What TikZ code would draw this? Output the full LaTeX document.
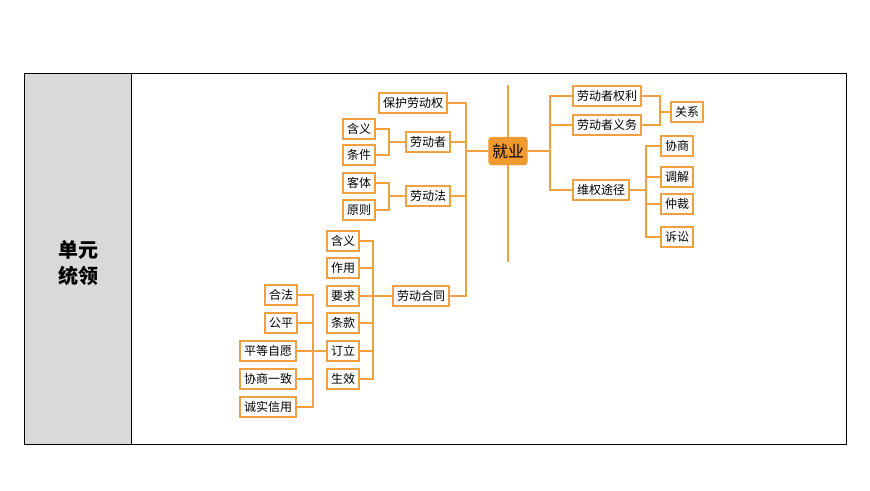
\documentclass[tikz,border=0pt]{standalone}
\usepackage{fontspec}
\newfontfamily\cjk{Noto Sans CJK SC}
\usetikzlibrary{positioning}
\definecolor{lineorange}{HTML}{F0A040}
\definecolor{keyorange}{HTML}{F09A30}
\tikzset{
  leaf/.style={draw=lineorange,line width=1.2pt,fill=white,minimum height=20pt,inner xsep=4pt,font=\cjk\fontsize{12}{12}\selectfont},
  link/.style={draw=lineorange,line width=1.2pt}
}
\begin{document}
\begin{tikzpicture}[x=1pt,y=-1pt]
            \useasboundingbox (0,0) rectangle (870,490);
            \draw[line width=1pt] (24,73) rectangle (846,444);
            \fill[black!15] (24.5,73.5) rectangle (131,443.5);
            \draw[line width=1pt] (131,73) -- (131,444);
            \node[align=center,font=\cjk\bfseries\fontsize{20}{26}\selectfont] (title) at (78,263) {单元\\统领};

            % centre
            \draw[link] (508,85) -- (508,262);
            \node[fill=keyorange,draw=lineorange,rounded corners=3pt,minimum width=38pt,minimum height=28pt,font=\cjk\fontsize{16}{16}\selectfont] (job) at (508,151) {就业};

            % left side
            \node[leaf] (protect) at (413,103) {保护劳动权};
            \node[leaf] (worker) at (428,142) {劳动者};
            \node[leaf] (law) at (428,196) {劳动法};
            \node[leaf] (contract) at (421,296) {劳动合同};
            \draw[link] (job.west) -- (466,151);
            \draw[link] (protect.east) -| (466,151) |- (contract.east);
            \draw[link] (worker.east) -- (466,142);
            \draw[link] (law.east) -- (466,196);

            \node[leaf] (meaningA) at (359,129) {含义};
            \node[leaf] (condition) at (359,155) {条件};
            \node[leaf] (object) at (359,183) {客体};
            \node[leaf] (principle) at (359,210) {原则};
            \draw[link] (meaningA.east) -| (389,155) -- (condition.east);
            \draw[link] (389,142) -- (worker.west);
            \draw[link] (object.east) -| (389,210) -- (principle.east);
            \draw[link] (389,196) -- (law.west);

            \node[leaf] (meaningB) at (343,241) {含义};
            \node[leaf] (role) at (343,268) {作用};
            \node[leaf] (demand) at (343,296) {要求};
            \node[leaf] (clause) at (343,323) {条款};
            \node[leaf] (sign) at (343,351) {订立};
            \node[leaf] (effect) at (343,379) {生效};
            \draw[link] (meaningB.east) -| (373,379) -- (effect.east);
            \foreach \n in {role,demand,clause,sign}
              \draw[link] (\n.east) -- (\n.east -| 373,0);
            \draw[link] (373,296) -- (contract.west);

            \node[leaf] (legal) at (281,295) {合法};
            \node[leaf] (fair) at (281,323) {公平};
            \node[leaf] (equal) at (268,351) {平等自愿};
            \node[leaf] (consensus) at (268,379) {协商一致};
            \node[leaf] (honest) at (268,407) {诚实信用};
            \draw[link] (legal.east) -| (313,407) -- (honest.east);
            \foreach \n in {fair,consensus}
              \draw[link] (\n.east) -- (\n.east -| 313,0);
            \draw[link] (equal.east) -- (sign.west);

            % right side
            \node[leaf] (rights) at (607,96) {劳动者权利};
            \node[leaf] (duties) at (607,125) {劳动者义务};
            \node[leaf] (defend) at (601,190) {维权途径};
            \draw[link] (job.east) -- (550,151);
            \draw[link] (rights.west) -| (550,190) -- (defend.west);
            \draw[link] (duties.west) -- (550,125);

            \node[leaf] (relation) at (687,112) {关系};
            \draw[link] (rights.east) -| (660,125) -- (duties.east);
            \draw[link] (660,112) -- (relation.west);

            \node[leaf] (negotiate) at (677,146) {协商};
            \node[leaf] (mediate) at (677,177) {调解};
            \node[leaf] (arbitrate) at (677,204) {仲裁};
            \node[leaf] (lawsuit) at (677,237) {诉讼};
            \draw[link] (negotiate.west) -| (646,237) -- (lawsuit.west);
            \draw[link] (mediate.west) -- (646,177);
            \draw[link] (arbitrate.west) -- (646,204);
            \draw[link] (defend.east) -- (646,190);
\end{tikzpicture}
\end{document}
